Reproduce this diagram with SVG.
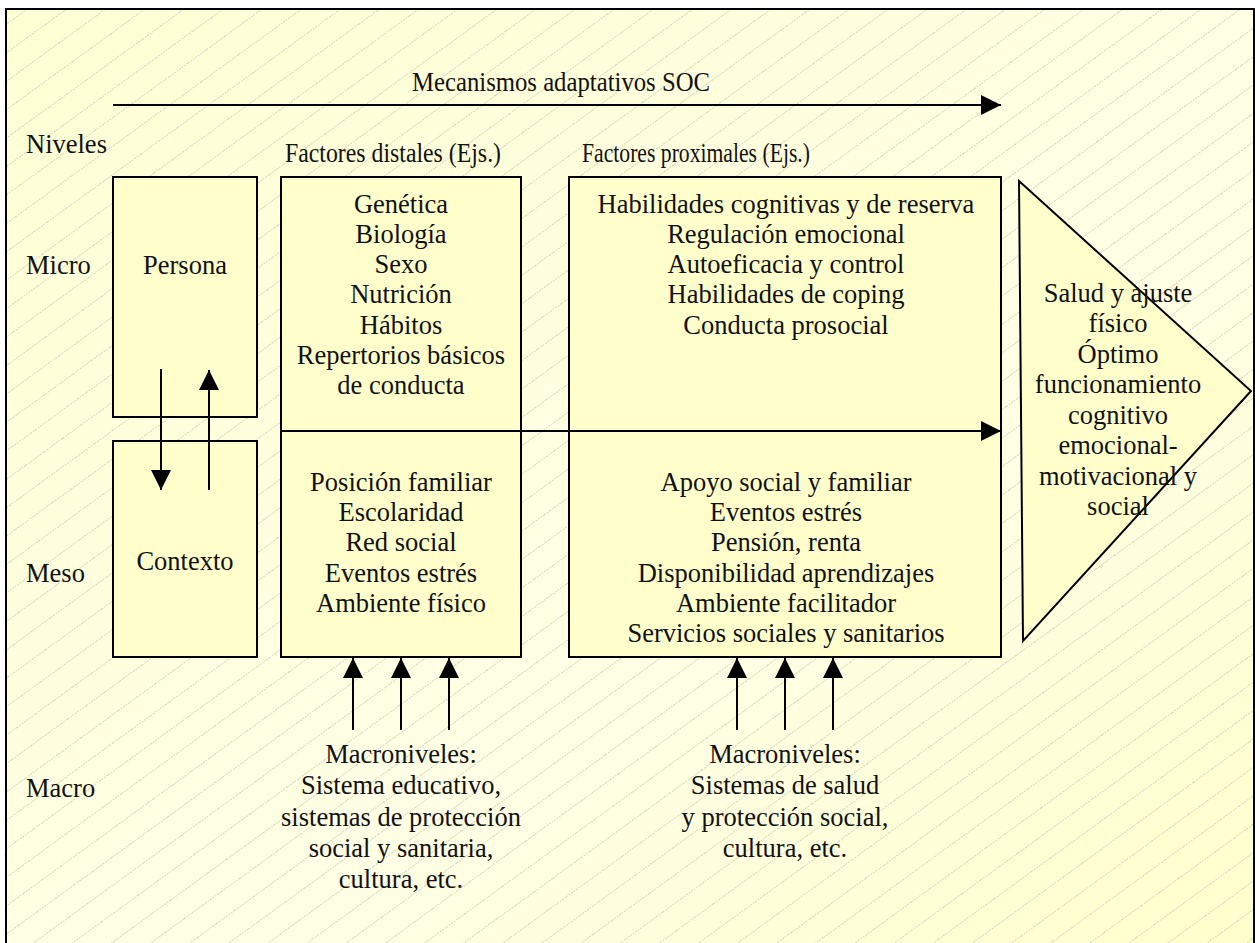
<svg xmlns="http://www.w3.org/2000/svg" width="1255" height="943" viewBox="0 0 1255 943">
<defs>
<linearGradient id="bg" x1="0" y1="0" x2="1" y2="1">
<stop offset="0" stop-color="#FFFFD4"/>
<stop offset="0.6" stop-color="#FFFFE6"/>
<stop offset="1" stop-color="#FFFFCC"/>
</linearGradient>
<pattern id="hatch" patternUnits="userSpaceOnUse" width="23" height="23" patternTransform="rotate(-36)">
<line x1="0" y1="0.5" x2="23" y2="0.5" stroke="#D6D6C2" stroke-width="1" stroke-dasharray="2 1"/>
</pattern>
<marker id="ah" viewBox="0 0 20 20" refX="20" refY="10" markerWidth="20" markerHeight="20" markerUnits="userSpaceOnUse" orient="auto">
<path d="M0,0 L20,10 L0,20 Z" fill="#000"/>
</marker>
<style>
.t{font-family:"Liberation Serif","Times New Roman",serif;font-size:26.5px;fill:#111;}
.c{text-anchor:middle;}
.box{fill:#FFFFCC;stroke:#000;stroke-width:2;}
.ln{stroke:#000;stroke-width:2;fill:none;}
</style>
</defs>
<rect x="6" y="9" width="1248" height="945" fill="url(#bg)"/>
<rect x="6" y="9" width="1248" height="945" fill="url(#hatch)"/>
<rect x="6" y="9" width="1248" height="945" fill="none" stroke="#000" stroke-width="2"/>

<text class="t" x="412" y="91" textLength="298" lengthAdjust="spacingAndGlyphs">Mecanismos adaptativos SOC</text>
<text class="t" x="26" y="153">Niveles</text>
<text class="t" x="285" y="162" textLength="216" lengthAdjust="spacingAndGlyphs">Factores distales (Ejs.)</text>
<text class="t" x="582" y="162" textLength="228" lengthAdjust="spacingAndGlyphs">Factores proximales (Ejs.)</text>
<text class="t" x="26" y="274">Micro</text>
<text class="t" x="26" y="582">Meso</text>
<text class="t" x="26" y="797">Macro</text>

<g id="persona">
<rect class="box" x="113" y="177" width="144" height="240"/>
<text class="t c" x="185" y="274">Persona</text>
</g>
<g id="contexto">
<rect class="box" x="113" y="441" width="144" height="216"/>
<text class="t c" x="185" y="570">Contexto</text>
</g>
<g id="distales">
<rect class="box" x="281" y="177" width="240" height="480"/>
<line class="ln" x1="281" y1="431" x2="521" y2="431"/>
<text class="t c" x="401" y="213">Genética</text>
<text class="t c" x="401" y="243">Biología</text>
<text class="t c" x="401" y="273">Sexo</text>
<text class="t c" x="401" y="303">Nutrición</text>
<text class="t c" x="401" y="334">Hábitos</text>
<text class="t c" x="401" y="364">Repertorios básicos</text>
<text class="t c" x="401" y="394">de conducta</text>
<text class="t c" x="401" y="491">Posición familiar</text>
<text class="t c" x="401" y="521">Escolaridad</text>
<text class="t c" x="401" y="551">Red social</text>
<text class="t c" x="401" y="582">Eventos estrés</text>
<text class="t c" x="401" y="612">Ambiente físico</text>
</g>
<g id="proximales">
<rect class="box" x="569" y="177" width="432" height="480"/>
<text class="t c" x="786" y="213">Habilidades cognitivas y de reserva</text>
<text class="t c" x="786" y="243">Regulación emocional</text>
<text class="t c" x="786" y="273">Autoeficacia y control</text>
<text class="t c" x="786" y="303">Habilidades de coping</text>
<text class="t c" x="786" y="334">Conducta prosocial</text>
<text class="t c" x="786" y="491">Apoyo social y familiar</text>
<text class="t c" x="786" y="521">Eventos estrés</text>
<text class="t c" x="786" y="551">Pensión, renta</text>
<text class="t c" x="786" y="582">Disponibilidad aprendizajes</text>
<text class="t c" x="786" y="612">Ambiente facilitador</text>
<text class="t c" x="786" y="642">Servicios sociales y sanitarios</text>
</g>
<g id="resultado">
<path class="box" d="M1019,181 L1251,391 L1023,641 Z"/>
<text class="t c" x="1118" y="302">Salud y ajuste</text>
<text class="t c" x="1118" y="332">físico</text>
<text class="t c" x="1118" y="363">Óptimo</text>
<text class="t c" x="1118" y="393">funcionamiento</text>
<text class="t c" x="1118" y="424">cognitivo</text>
<text class="t c" x="1118" y="454">emocional-</text>
<text class="t c" x="1118" y="485">motivacional y</text>
<text class="t c" x="1118" y="515">social</text>
</g>
<g id="macro-distal">
<text class="t c" x="401" y="763">Macroniveles:</text>
<text class="t c" x="401" y="794">Sistema educativo,</text>
<text class="t c" x="401" y="826">sistemas de protección</text>
<text class="t c" x="401" y="857">social y sanitaria,</text>
<text class="t c" x="401" y="888">cultura, etc.</text>
</g>
<g id="macro-proximal">
<text class="t c" x="785" y="763">Macroniveles:</text>
<text class="t c" x="785" y="794">Sistemas de salud</text>
<text class="t c" x="785" y="826">y protección social,</text>
<text class="t c" x="785" y="857">cultura, etc.</text>
</g>
<g id="connectors">
<line class="ln" x1="113" y1="105" x2="1001" y2="105" marker-end="url(#ah)"/>
<line class="ln" x1="521" y1="431" x2="1001" y2="431" marker-end="url(#ah)"/>
<line class="ln" x1="161" y1="369" x2="161" y2="490" marker-end="url(#ah)"/>
<line class="ln" x1="209" y1="490" x2="209" y2="370" marker-end="url(#ah)"/>
<line class="ln" x1="353" y1="730" x2="353" y2="658" marker-end="url(#ah)"/>
<line class="ln" x1="401" y1="730" x2="401" y2="658" marker-end="url(#ah)"/>
<line class="ln" x1="449" y1="730" x2="449" y2="658" marker-end="url(#ah)"/>
<line class="ln" x1="737" y1="730" x2="737" y2="658" marker-end="url(#ah)"/>
<line class="ln" x1="785" y1="730" x2="785" y2="658" marker-end="url(#ah)"/>
<line class="ln" x1="833" y1="730" x2="833" y2="658" marker-end="url(#ah)"/>
</g>
</svg>
